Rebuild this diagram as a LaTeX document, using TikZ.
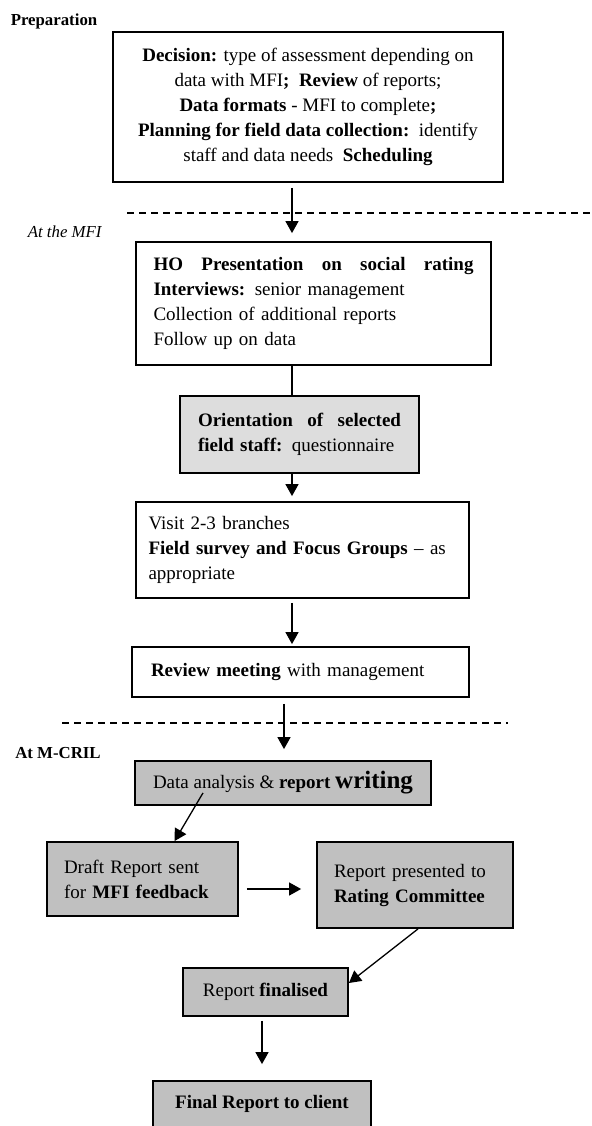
\documentclass[tikz,border=0pt]{standalone}
\usepackage{fontspec}
\setmainfont{Liberation Serif}
\usetikzlibrary{arrows.meta,positioning,calc}
\definecolor{palegray}{HTML}{DDDDDD}
\definecolor{silvergray}{HTML}{C0C0C0}

\begin{document}
\begin{tikzpicture}[x=0.5pt,y=-0.5pt,
  every node/.style={font=\fontsize{9.5}{12.5}\selectfont},
  box/.style={rectangle,draw=black,line width=0.9pt,inner sep=0pt,align=center},
  gbox/.style={box,fill=silvergray},
  lbl/.style={font=\fontsize{8.4}{10}\selectfont,inner sep=0pt},
  arrow/.style={-{Triangle[length=6pt,width=6.5pt]},line width=0.65pt},
  sep/.style={dash pattern=on 3.5pt off 2.5pt,line width=0.6pt}
]
\useasboundingbox (0,0) rectangle (592,1126);
\clip (0,0) rectangle (592,1126);

\node[lbl] (prepLbl) at (54,21) {\textbf{Preparation}};
\node[lbl] (mfiLbl) at (65,232) {\textit{At the MFI}};
\node[lbl] (mcrilLbl) at (58,753) {\textbf{At M-CRIL}};

\draw[sep] (127,213) -- (592,213);
\draw[sep] (62,723) -- (508,723);

\node[box,minimum width=195pt,minimum height=75pt] (prep) at (308,107) {\textbf{Decision:} type of assessment depending on\\ data with MFI\textbf{;}\enspace \textbf{Review} of reports;\\ \textbf{Data formats} - MFI to complete\textbf{;}\\ \textbf{Planning for field data collection:}\enspace identify\\ staff and data needs\enspace \textbf{Scheduling}};
\node[box,minimum width=177.5pt,minimum height=61.5pt,text width=160pt,align=left] (ho) at (313.5,303.5) {\textbf{HO\hfill Presentation\hfill on\hfill social\hfill rating}\\ \textbf{Interviews:} senior management\\ Collection of additional reports\\ Follow up on data};
\node[box,fill=palegray,minimum width=119.5pt,minimum height=38.5pt,text width=101.5pt,align=left] (orient) at (299.5,434.5) {\textbf{Orientation\hfill of\hfill selected}\\ \textbf{field staff:}\enspace questionnaire};
\node[box,minimum width=166.5pt,minimum height=48pt,text width=154pt,align=left] (visit) at (302.5,550) {Visit 2-3 branches\\ \textbf{Field survey and Focus Groups} -- as\\ appropriate};
\node[box,minimum width=168.5pt,minimum height=25pt,text width=149.5pt,align=left] (review) at (300.5,672) {\textbf{Review meeting} with management};

\node[gbox,minimum width=148pt,minimum height=22pt] (analysis) at (283,783) {Data analysis \& \textbf{report} {\fontsize{12.5}{14}\selectfont\bfseries writing}};
\node[gbox,minimum width=95.5pt,minimum height=37pt,text width=78.5pt,align=left] (draft) at (142.5,879) {Draft Report sent\\ for \textbf{MFI feedback}};
\node[gbox,minimum width=98pt,minimum height=43pt,text width=81pt,align=left] (rating) at (415,885) {Report presented to\\ \textbf{Rating Committee}};
\node[gbox,minimum width=82.5pt,minimum height=24pt] (fin) at (265.5,992) {Report \textbf{finalised}};
\node[gbox,minimum width=109pt,minimum height=23pt] (client) at (262,1104) {\textbf{Final Report to client}};

\coordinate (spine) at (292,0);
\coordinate (spine2) at (284,0);

\draw[arrow,shorten <=2.5pt,shorten >=4pt] (prep.south -| spine) -- (ho.north -| spine);
\draw[line width=0.9pt] (ho.south -| spine) -- (orient.north -| spine);
\draw[arrow,shorten >=2.5pt] (orient.south -| spine) -- (visit.north -| spine);
\draw[arrow,shorten <=2pt,shorten >=1pt] (visit.south -| spine) -- (review.north -| spine);
\draw[arrow,shorten <=3pt,shorten >=5.5pt] (review.south -| spine2) -- (analysis.north -| spine2);
\draw[arrow] ([shift={(-80,-13)}]analysis.south) -- ([xshift=16pt]draft.north);
\draw[arrow,shorten <=4pt,shorten >=7.5pt] ([yshift=-5pt]draft.east) -- ([yshift=-5pt]draft.east -| rating.west);
\draw[arrow] ([xshift=1.5pt]rating.south) -- ([yshift=4.5pt]fin.east);
\draw[arrow,shorten <=2pt,shorten >=8pt] (fin.south -| client.north) -- (client.north);
\end{tikzpicture}
\end{document}
